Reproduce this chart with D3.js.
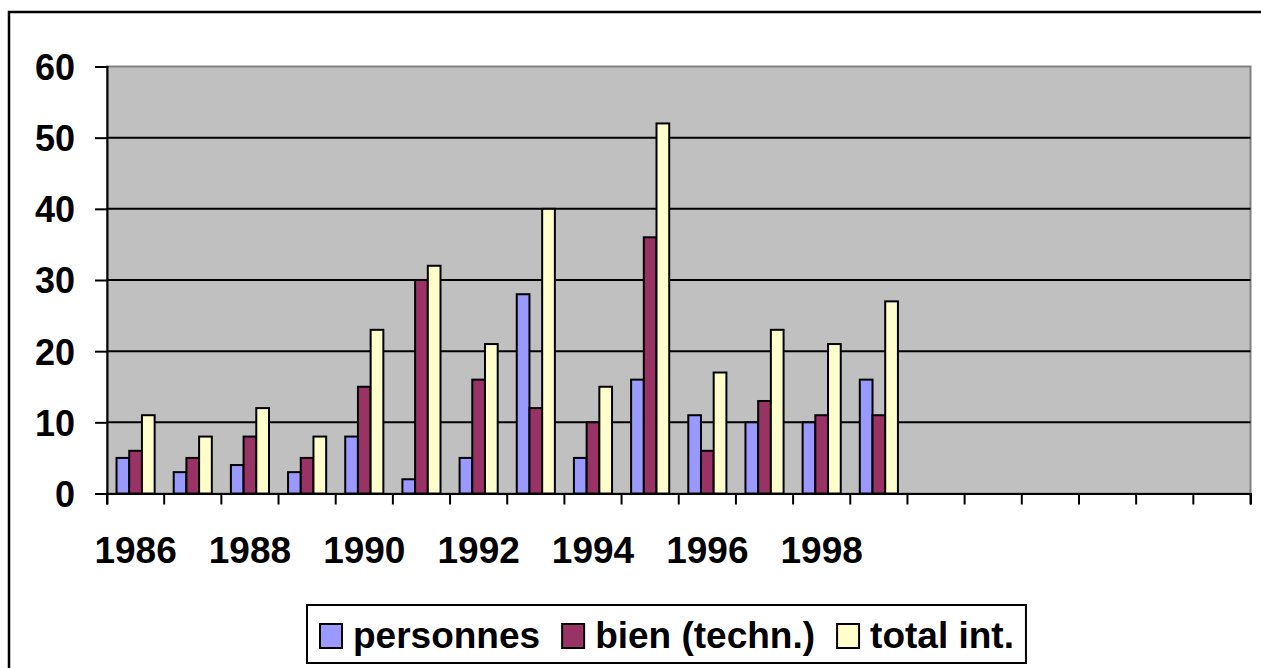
<!DOCTYPE html>
<html><head><meta charset="utf-8">
<script src="https://cdn.jsdelivr.net/npm/d3@7"></script>
<style>html,body{margin:0;padding:0;background:#fff;}svg{display:block;}</style>
</head><body>
<svg id="chart" width="1261" height="668"></svg>
<script>
const categories = ["1986","1987","1988","1989","1990","1991","1992","1993","1994","1995","1996","1997","1998","1999","c15","c16","c17","c18","c19","c20"];
const tickLabels = ["1986","","1988","","1990","","1992","","1994","","1996","","1998","","","","","","",""];
const seriesNames = ["personnes","bien (techn.)","total int."];
const personnes = [5,3,4,3,8,2,5,28,5,16,11,10,10,16];
const bien = [6,5,8,5,15,30,16,12,10,36,6,13,11,11];
const totalInt = [11,8,12,8,23,32,21,40,15,52,17,23,21,27];
const yTicks = [0,10,20,30,40,50,60];
const colors = ["#9999FF","#993366","#FFFFCC"];

const svg = d3.select("#chart");
const font = "'Liberation Sans', Arial, sans-serif";

// outer frame
svg.append("rect").attr("x",9).attr("y",12).attr("width",1261).attr("height",700)
  .attr("fill","none").attr("stroke","#000").attr("stroke-width",2.5);

const L = 107, R = 1250.5, T = 66.5, B = 493.5;
const x = d3.scaleBand().domain(categories).range([L, R]).paddingInner(0).paddingOuter(0);
const y = d3.scaleLinear().domain([0,60]).range([B, T]);
const bw = x.bandwidth() / 4.5;
const sub = d3.scaleBand().domain(seriesNames).range([bw*0.75, bw*3.75]).padding(0);

// plot area
svg.append("rect").attr("x",L).attr("y",T).attr("width",R-L).attr("height",B-T)
  .attr("fill","#C0C0C0").attr("stroke","#808080").attr("stroke-width",2);

// gridlines
svg.append("g").selectAll("line").data(yTicks.filter(d=>d>0 && d<60)).join("line")
  .attr("x1",L).attr("x2",R).attr("y1",d=>y(d)).attr("y2",d=>y(d))
  .attr("stroke","#000").attr("stroke-width",2);

// bars
const series = [personnes, bien, totalInt];
series.forEach((vals, si) => {
  svg.append("g").selectAll("rect").data(vals).join("rect")
    .attr("x",(d,i)=>x(categories[i]) + sub(seriesNames[si]))
    .attr("y",d=>y(d))
    .attr("width",sub.bandwidth())
    .attr("height",d=>y(0)-y(d))
    .attr("fill",colors[si]).attr("stroke","#000").attr("stroke-width",2);
});

// y axis
const yAxis = d3.axisLeft(y).tickValues(yTicks).tickSize(12).tickPadding(20);
const gy = svg.append("g").attr("transform",`translate(${L},0)`).call(yAxis);
gy.select(".domain").attr("stroke","#000").attr("stroke-width",2);
gy.selectAll(".tick line").attr("stroke","#000").attr("stroke-width",2);
gy.selectAll("text").attr("font-family",font).attr("font-weight","bold")
  .attr("font-size",36).attr("fill","#000").attr("dy","0.36em");

// x axis
const xAxis = d3.axisBottom(x).tickSize(11).tickPadding(0).tickFormat((d,i)=>tickLabels[i]);
const gx = svg.append("g").attr("transform",`translate(0,${B})`).call(xAxis);
gx.select(".domain").attr("stroke","#000").attr("stroke-width",2);
gx.selectAll(".tick line").attr("stroke","#000").attr("stroke-width",2)
  .attr("transform",`translate(${-x.bandwidth()/2},0)`);
gx.append("line").attr("x1",R).attr("x2",R).attr("y1",0).attr("y2",11).attr("stroke","#000").attr("stroke-width",2);
gx.selectAll(".tick text").attr("font-family",font).attr("font-weight","bold")
  .attr("font-size",37).attr("fill","#000").attr("y",69).attr("dy",0);

// legend
const lg = svg.append("g");
const box = lg.append("rect").attr("y",605).attr("height",58)
  .attr("fill","#fff").attr("stroke","#000").attr("stroke-width",2);
let cx = 320;
seriesNames.forEach((name, i) => {
  lg.append("rect").attr("x",cx).attr("y",624).attr("width",22).attr("height",24)
    .attr("fill",colors[i]).attr("stroke","#000").attr("stroke-width",2);
  const t = lg.append("text").attr("x",cx+33).attr("y",648).text(name)
    .attr("font-family",font).attr("font-weight","bold").attr("font-size",37).attr("fill","#000");
  cx = cx + 33 + t.node().getComputedTextLength() + 22;
});
box.attr("x",307).attr("width",cx - 22 + 12 - 307);
</script>
</body></html>
